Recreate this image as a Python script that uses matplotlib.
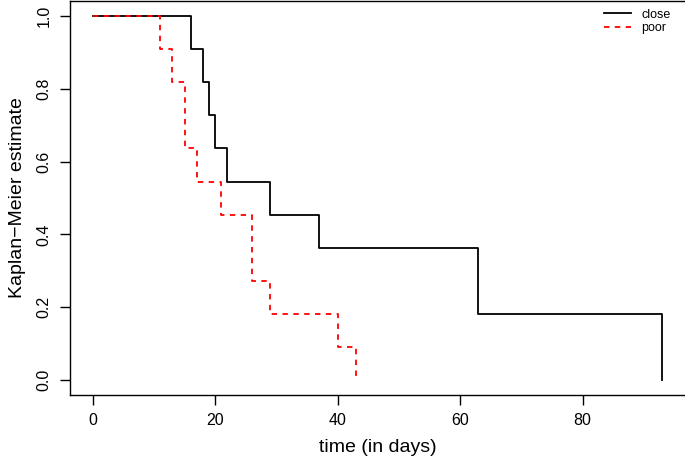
#!/usr/bin/env python3
import matplotlib
matplotlib.use("Agg")
import matplotlib.pyplot as plt

# Kaplan-Meier step values
close_t = [0, 16, 18, 19, 20, 22, 29, 37, 63, 93]
close_s = [1.0, 0.909, 0.818, 0.727, 0.636, 0.545, 0.4545, 0.3636, 0.1818, 0.0]
poor_t = [0, 11, 13, 15, 17, 21, 26, 29, 40, 43]
poor_s = [1.0, 0.909, 0.818, 0.636, 0.545, 0.4545, 0.2727, 0.1818, 0.0909, 0.0]

xticks = [0, 20, 40, 60, 80]
yticks = [0.0, 0.2, 0.4, 0.6, 0.8, 1.0]

plt.rcParams['font.family'] = ['Liberation Sans', 'DejaVu Sans']

fig = plt.figure(figsize=(6.85, 4.58), dpi=100)
ax = fig.add_axes([0.102, 0.1384, 0.898, 0.8586])

ax.step(close_t, close_s, where='post', color='black', lw=1.3, label='close')
ax.step(poor_t, poor_s, where='post', color='red', lw=1.3,
        linestyle=(0, (3, 3)), label='poor')

ax.set_xlim(-3.72, 96.72)
ax.set_ylim(-0.04, 1.04)
ax.set_xticks(xticks)
ax.set_xticklabels([str(v) for v in xticks])
ax.set_yticks(yticks)
ax.set_yticklabels(["%.1f" % v for v in yticks], rotation=90, va='center')
ax.tick_params(direction='out', length=7, width=1, labelsize=11.5, pad=6)
for s in ax.spines.values():
    s.set_linewidth(1.0)
ax.spines['right'].set_visible(False)

ax.set_xlabel("time (in days)", fontsize=14, labelpad=8)
ax.set_ylabel("Kaplan\u2212Meier estimate", fontsize=14, labelpad=8)

ax.legend(loc='upper right', bbox_to_anchor=(0.995, 1.01), frameon=False,
          fontsize=9, handlelength=2.2, handletextpad=0.8, labelspacing=0.1)

fig.savefig("out.png", dpi=100)
